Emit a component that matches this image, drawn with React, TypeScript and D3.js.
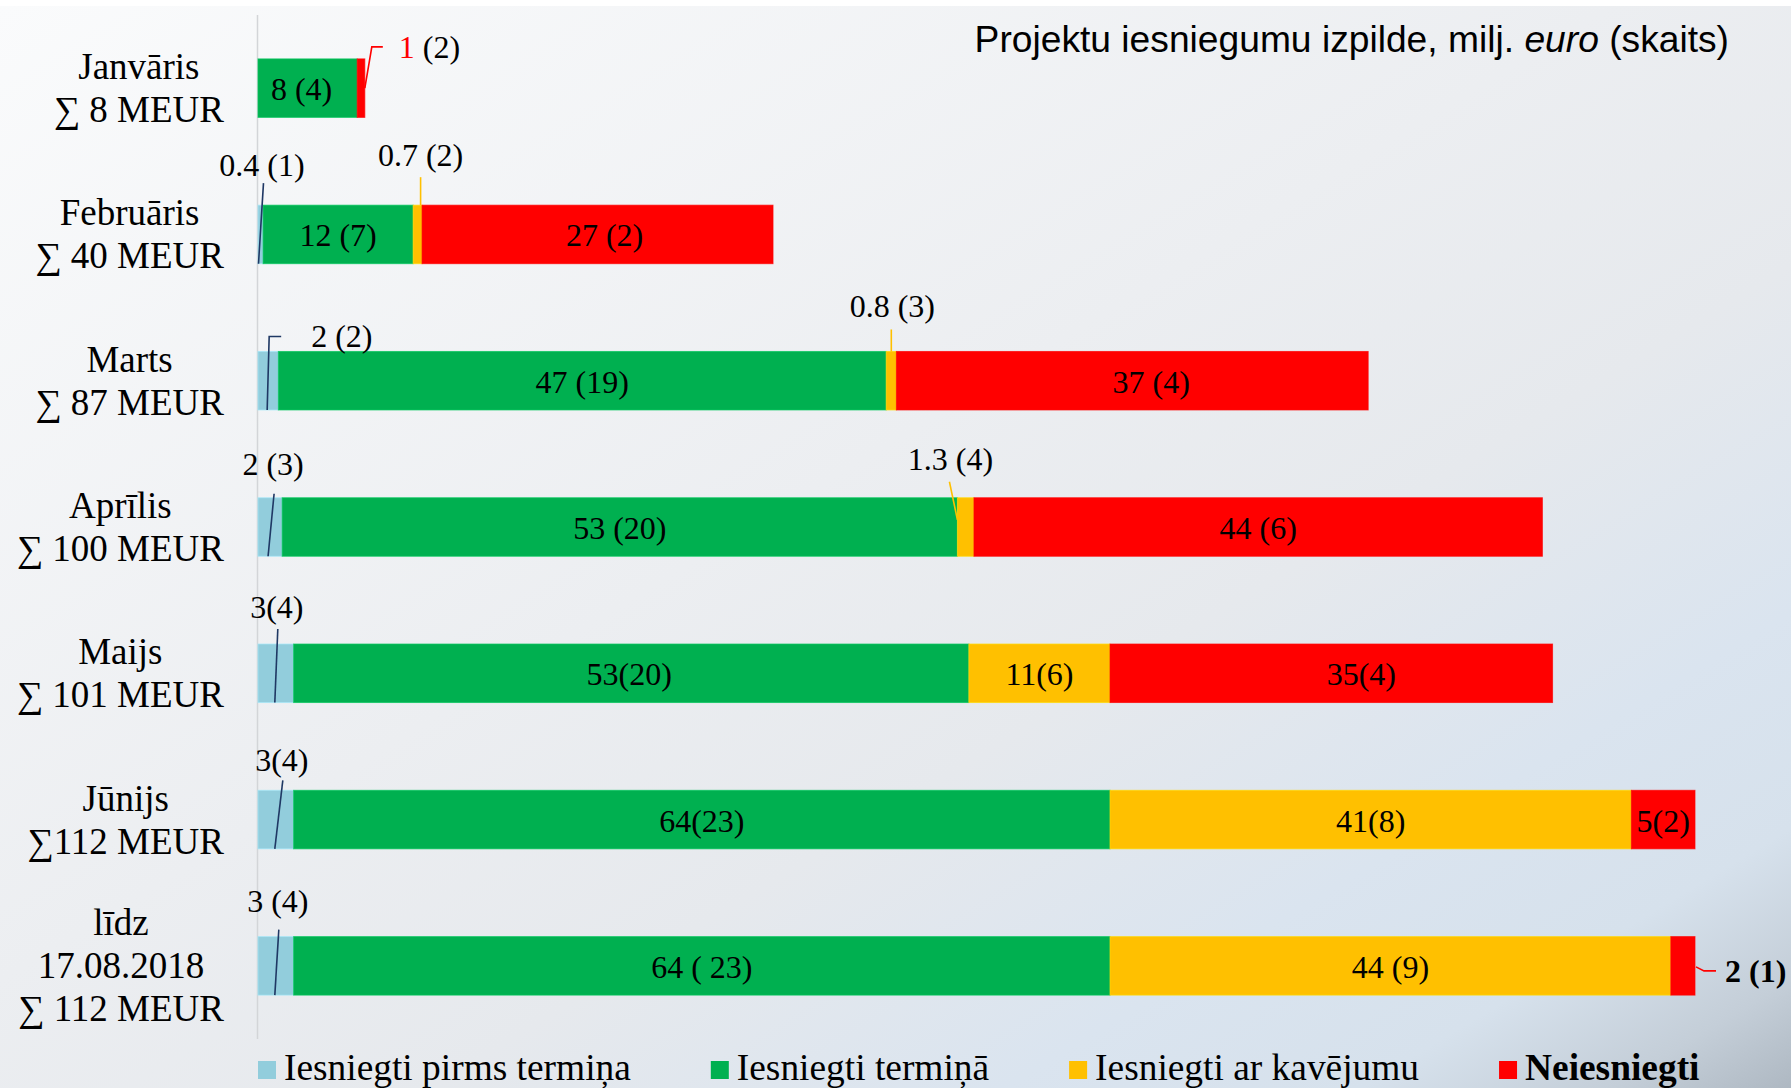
import React, { useMemo } from "react";
import * as d3 from "d3";

const W = 1791;
const H = 1088;

// ---- data ----
const categoryLines: string[][] = [
  ["Janvāris", "∑ 8 MEUR"],
  ["Februāris", "∑ 40 MEUR"],
  ["Marts", "∑ 87 MEUR"],
  ["Aprīlis", "∑ 100 MEUR"],
  ["Maijs", "∑ 101 MEUR"],
  ["Jūnijs", "∑112 MEUR"],
  ["līdz", "17.08.2018", "∑ 112 MEUR"],
];
const categories = ["jan", "feb", "mar", "apr", "may", "jun", "aug"];

const seriesNames = [
  "Iesniegti pirms termiņa",
  "Iesniegti termiņā",
  "Iesniegti ar kavējumu",
  "Neiesniegti",
];
const seriesKeys = ["before", "onTime", "late", "notSubmitted"];
const seriesColors = ["#92CDDC", "#00B050", "#FFC000", "#FF0000"];

// values in MEUR
const beforeTerm = [0, 0.4, 1.6, 1.9, 2.8, 2.8, 2.8];
const onTime = [7.8, 11.8, 47.8, 53.1, 53.1, 64.2, 64.2];
const late = [0, 0.7, 0.8, 1.3, 11.1, 41, 44.1];
const notSubmitted = [0.6, 27.6, 37.1, 44.7, 34.8, 5, 1.9];

// labels drawn inside the segments
const onTimeLabels = ["8 (4)", "12 (7)", "47 (19)", "53 (20)", "53(20)", "64(23)", "64 ( 23)"];
const lateLabels = [null, null, null, null, "11(6)", "41(8)", "44 (9)"];
const notSubmittedLabels = [null, "27 (2)", "37 (4)", "44 (6)", "35(4)", "5(2)", null];

// labels drawn outside with leader lines
const beforeTermLabels = [null, "0.4 (1)", "2 (2)", "2 (3)", "3(4)", "3(4)", "3 (4)"];
const lateOutsideLabels = [null, "0.7 (2)", "0.8 (3)", "1.3 (4)", null, null, null];
const notSubmittedOutsideLabels = ["1 (2)", null, null, null, null, null, "2 (1)"];

const title = "Projektu iesniegumu izpilde, milj. ";
const titleItalic = "euro";
const titleEnd = " (skaits)";

// ---- layout tweaks for label placement (px) ----
const insideShift: number[][] = [
  [0, 0, 0, 0, 0, 0, 0],
  [-6, 0, 0, 0, -2, 0, 0],
  [0, 0, 0, 0, 0, 0, 0],
  [0, 7, 19, 0, 30, 0, 0],
];

type P = [string, number, string, number];
type Callout = { row: number; s: number; text: string; pts: P[]; at: P; anchor: string; color: string; bold?: boolean; firstRed?: boolean };

const LEADER_BLUE = "#1F3864";

const SERIF = '"Liberation Serif", "Times New Roman", serif';
const SANS = '"Liberation Sans", Arial, sans-serif';

function measure(text: string, font: string) {
  const c = document.createElement("canvas");
  const ctx = c.getContext("2d")!;
  ctx.font = font;
  return ctx.measureText(text).width;
}

export default function App() {
  const rows = categories.map((c, i) => ({
    cat: c,
    before: beforeTerm[i],
    onTime: onTime[i],
    late: late[i],
    notSubmitted: notSubmitted[i],
  }));
  const stacked = d3.stack<any>().keys(seriesKeys)(rows);

  const x = d3.scaleLinear().domain([0, 113]).range([258, 1695]);
  const y = d3.scaleBand().domain(categories).range([15, 1039]).paddingInner(0.6).paddingOuter(0.3);
  const bw = y.bandwidth();

  const catFont = `37px ${SERIF}`;
  const legendSize = 37.4;
  const catWidths = useMemo(
    () => categoryLines.map((ls) => Math.max(...ls.map((l) => measure(l, catFont)))),
    []
  );
  const legendWidths = useMemo(
    () => seriesNames.map((n, i) => measure(n, `${i === 3 ? "bold " : ""}${legendSize}px ${SERIF}`)),
    []
  );

  const segPos = (row: number, s: number, key: string) => {
    const d = stacked[s][row];
    const a = x(d[0]);
    const b = x(d[1]);
    return key === "s" ? a : key === "e" ? b : (a + b) / 2;
  };
  const barY = (row: number, key: string) => {
    const t = y(categories[row])!;
    return key === "t" ? t : key === "b" ? t + bw : t + bw / 2;
  };

  const callouts: Callout[] = [];
  const blueGeom: { pts: P[]; at: P }[] = [
    { pts: [], at: ["m", 0, "t", 0] },
    { pts: [["s", 0.5, "b", 0], ["s", 5.5, "t", -22]], at: ["s", 4, "t", -29] },
    { pts: [["m", -1, "b", 0], ["m", 1, "t", -15], ["m", 13, "t", -15]], at: ["m", 43, "t", -4] },
    { pts: [["m", -2, "b", 0], ["m", 4, "t", -4]], at: ["m", 3, "t", -23] },
    { pts: [["m", 2, "t", -15], ["m", -1, "b", 0]], at: ["m", 1, "t", -26] },
    { pts: [["m", 7, "t", -10], ["m", -1, "b", 0]], at: ["m", 6, "t", -19] },
    { pts: [["m", 3, "t", -7], ["m", -1, "b", 0]], at: ["m", 2, "t", -25] },
  ];
  beforeTermLabels.forEach((t, i) => {
    if (!t) return;
    const g = blueGeom[i];
    callouts.push({ row: i, s: 0, text: t, pts: g.pts, at: g.at, anchor: i === 2 ? "start" : "middle", color: LEADER_BLUE });
  });
  const lateGeom: Record<number, { pts: P[]; at: P }> = {
    1: { pts: [["m", 3, "t", -28], ["m", 3, "t", 0]], at: ["m", 3, "t", -39] },
    2: { pts: [["m", 0, "t", -22], ["m", 0, "t", 0]], at: ["m", 1, "t", -34] },
    3: { pts: [["s", -8, "t", -16], ["s", 0, "t", 22]], at: ["s", -7, "t", -28] },
  };
  lateOutsideLabels.forEach((t, i) => {
    if (!t) return;
    const g = lateGeom[i];
    callouts.push({ row: i, s: 2, text: t, pts: g.pts, at: g.at, anchor: "middle", color: "#FFC000" });
  });
  const redGeom: Record<number, { pts: P[]; at: P; bold?: boolean; firstRed?: boolean }> = {
    0: { pts: [["e", 0, "c", 0], ["e", 7, "t", -12], ["e", 18, "t", -12]], at: ["e", 34, "t", -1], firstRed: true },
    6: { pts: [["e", 1, "c", 1], ["e", 9, "c", 5], ["e", 21, "c", 5]], at: ["e", 30, "c", 16], bold: true },
  };
  notSubmittedOutsideLabels.forEach((t, i) => {
    if (!t) return;
    const g = redGeom[i];
    callouts.push({ row: i, s: 3, text: t, pts: g.pts, at: g.at, anchor: "start", color: "#FF0000", bold: g.bold, firstRed: g.firstRed });
  });

  const px = (c: Callout, p: P): [number, number] => [segPos(c.row, c.s, p[0]) + p[1], barY(c.row, p[2]) + p[3]];

  const insideLabels = [null as any, onTimeLabels, lateLabels, notSubmittedLabels];

  // legend layout
  let lx = 258;
  const legendItems = seriesNames.map((n, i) => {
    const item = { x: lx, name: n, color: seriesColors[i], bold: i === 3 };
    lx += 18 + 8 + legendWidths[i] + 80;
    return item;
  });

  return (
    <svg
      width={W}
      height={H}
      style={{ position: "fixed", left: 0, top: 0, display: "block" }}
      xmlns="http://www.w3.org/2000/svg"
    >
      <defs>
        <linearGradient id="bg" x1="0" y1="0" x2="1" y2="1">
          <stop offset="0" stopColor="#fafbfc" />
          <stop offset="0.45" stopColor="#eceef1" />
          <stop offset="0.62" stopColor="#e6e9ed" />
          <stop offset="0.78" stopColor="#dae4ef" />
          <stop offset="0.88" stopColor="#d6e1ec" />
          <stop offset="0.95" stopColor="#c4ced8" />
          <stop offset="1" stopColor="#aeb8c2" />
        </linearGradient>
      </defs>
      <rect x={0} y={0} width={W} height={H} fill="#ffffff" />
      <rect x={0} y={6} width={W} height={H - 6} fill="url(#bg)" />

      {/* axis line */}
      <line x1={257.5} x2={257.5} y1={15} y2={1039} stroke="#d3d5d8" strokeWidth={1.5} />

      {/* title */}
      <text x={1729} y={52} textAnchor="end" fontFamily={SANS} fontSize={37.2} fill="#000">
        {title}
        <tspan fontStyle="italic">{titleItalic}</tspan>
        {titleEnd}
      </text>

      {/* category labels */}
      {categoryLines.map((lines, i) => {
        const yc = y(categories[i])! + bw / 2;
        const cx = 224 - catWidths[i] / 2;
        return (
          <text key={i} textAnchor="middle" fontFamily={SERIF} fontSize={37} fill="#000">
            {lines.map((l, j) => (
              <tspan key={j} x={cx} y={yc + (j - (lines.length - 1) / 2) * 43 + 12.5}>
                {l}
              </tspan>
            ))}
          </text>
        );
      })}

      {/* bars */}
      {stacked.map((ser, s) => (
        <g key={s}>
          {ser.map((d, i) =>
            d[1] - d[0] > 0 ? (
              <rect
                key={i}
                x={x(d[0])}
                y={y(categories[i])}
                width={x(d[1]) - x(d[0])}
                height={bw}
                fill={seriesColors[s]}
                stroke={d3.color(seriesColors[s])!.brighter(0.35).formatHex()}
                strokeOpacity={0.7}
                strokeWidth={1}
              />
            ) : null
          )}
        </g>
      ))}

      {/* inside labels */}
      {stacked.map((ser, s) =>
        insideLabels[s]
          ? ser.map((d, i) => {
              const t = insideLabels[s][i];
              if (!t) return null;
              return (
                <text
                  key={`${s}-${i}`}
                  x={(x(d[0]) + x(d[1])) / 2 + insideShift[s][i]}
                  y={y(categories[i])! + bw / 2 + 12}
                  textAnchor="middle"
                  fontFamily={SERIF}
                  fontSize={32}
                  fill="#000"
                >
                  {t}
                </text>
              );
            })
          : null
      )}

      {/* callouts */}
      {callouts.map((c, k) => {
        const pts = c.pts.map((p) => px(c, p));
        const [tx, ty] = px(c, c.at);
        const parts = c.text.split(" ");
        return (
          <g key={k}>
            <path d={d3.line()(pts) || ""} fill="none" stroke={c.color} strokeWidth={1.6} />
            <text
              x={tx}
              y={ty}
              textAnchor={c.anchor}
              fontFamily={SERIF}
              fontSize={32}
              fontWeight={c.bold ? "bold" : "normal"}
              fill="#000"
            >
              {c.firstRed ? (
                <>
                  <tspan fill="#FF0000">{parts[0]}</tspan>
                  {" " + parts.slice(1).join(" ")}
                </>
              ) : (
                c.text
              )}
            </text>
          </g>
        );
      })}

      {/* legend */}
      {legendItems.map((it, i) => (
        <g key={i}>
          <rect x={it.x} y={1061} width={18} height={18} fill={it.color} />
          <text
            x={it.x + 26}
            y={1080}
            fontFamily={SERIF}
            fontSize={legendSize}
            fontWeight={it.bold ? "bold" : "normal"}
            fill="#000"
          >
            {it.name}
          </text>
        </g>
      ))}
    </svg>
  );
}
